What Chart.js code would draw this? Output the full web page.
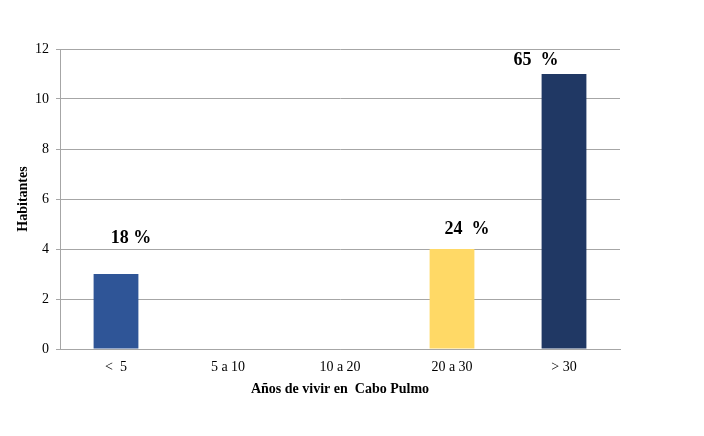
<!DOCTYPE html>
<html>
<head>
<meta charset="utf-8">
<script src="https://cdn.jsdelivr.net/npm/chart.js@4/dist/chart.umd.min.js"></script>
<style>
    html, body { margin: 0; padding: 0; background: #ffffff; }
    #wrap { width: 704px; height: 436px; }
</style>
</head>
<body>
<div id="wrap"><canvas id="chart" width="704" height="436"></canvas></div>
<script>
var categories = ['<  5', '5 a 10', '10 a 20', '20 a 30', '> 30'];
var habitantes = [3, 0, 0, 4, 11];
var percentLabels = ['18 %', '', '', '24  %', '65  %'];
var barColors = ['#2F5597', '#2F5597', '#2F5597', '#FFD966', '#203864'];

// label placement relative to bar top centre, as in the original slide
var labelOffsets = [[15, -36], [0, 0], [0, 0], [15, -20], [-28, -14]];

var serif = '"Liberation Serif", "Times New Roman", serif';

var percentPlugin = {
    id: 'percentPlugin',
    afterDatasetsDraw: function (chart) {
        var ctx = chart.ctx, meta = chart.getDatasetMeta(0);
        ctx.save();
        ctx.font = 'bold 18px ' + serif;
        ctx.fillStyle = '#000000';
        ctx.textAlign = 'center';
        ctx.textBaseline = 'middle';
        for (var i = 0; i < meta.data.length; i++) {
            if (!percentLabels[i]) continue;
            var bar = meta.data[i];
            ctx.fillText(percentLabels[i], bar.x + labelOffsets[i][0], bar.y + labelOffsets[i][1]);
        }
        ctx.restore();
    }
};

new Chart(document.getElementById('chart'), {
    type: 'bar',
    data: {
        labels: categories,
        datasets: [{
            data: habitantes,
            backgroundColor: barColors,
            borderWidth: 0,
            barPercentage: 0.4,
            categoryPercentage: 1
        }]
    },
    options: {
        responsive: false,
        animation: false,
        devicePixelRatio: 1,
        layout: { padding: { top: 49, right: 84, left: 0, bottom: 0 } },
        plugins: {
            legend: { display: false },
            tooltip: { enabled: false }
        },
        scales: {
            x: {
                grid: { display: false, drawTicks: false },
                border: { color: '#A6A6A6', width: 1 },
                ticks: {
                    color: '#000000',
                    font: { family: serif, size: 14 },
                    padding: 10
                },
                title: {
                    display: true,
                    text: 'Años de vivir en  Cabo Pulmo',
                    color: '#000000',
                    font: { family: serif, size: 14, weight: 'bold' },
                    padding: { top: 4, bottom: 38 }
                },
                afterFit: function (scale) { scale.height = 87; }
            },
            y: {
                min: 0,
                max: 12,
                ticks: {
                    stepSize: 2,
                    color: '#000000',
                    font: { family: serif, size: 14 },
                    padding: 7
                },
                grid: { color: '#A6A6A6', tickLength: 4 },
                border: { color: '#A6A6A6', width: 1 },
                title: {
                    display: true,
                    text: 'Habitantes',
                    color: '#000000',
                    font: { family: serif, size: 14, weight: 'bold' },
                    padding: { top: 15, bottom: 0 }
                },
                afterFit: function (scale) { scale.width = 60; }
            }
        }
    },
    plugins: [percentPlugin]
});
</script>
</body>
</html>
